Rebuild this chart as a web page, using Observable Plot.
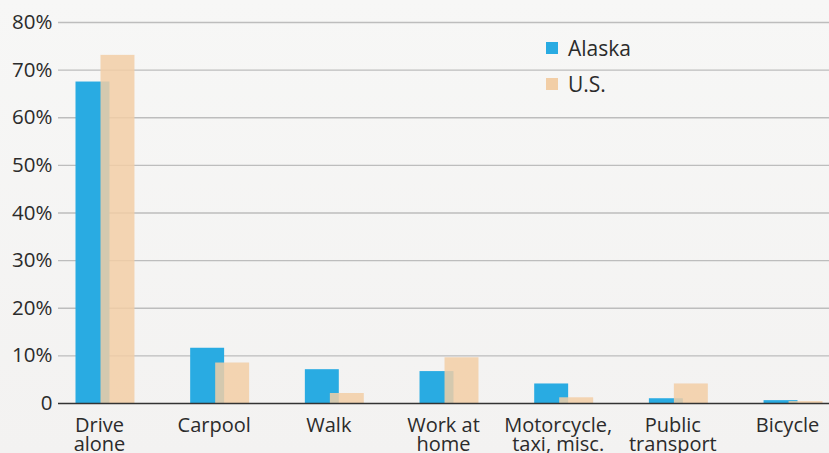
<!DOCTYPE html>
<html><head><meta charset="utf-8">
<script src="https://cdn.jsdelivr.net/npm/d3@7"></script>
<script src="https://cdn.jsdelivr.net/npm/@observablehq/plot@0.6"></script>
<style>
html,body{margin:0;padding:0;background:#f5f4f3;}
#wrap{position:relative;width:829px;height:453px;overflow:hidden;background:linear-gradient(#f7f7f6,#f3f2f1);font-family:"Open Sans",sans-serif;}
#legend{position:absolute;left:546px;top:30px;font-size:21px;color:#2b2b2b;}
.item{display:flex;align-items:center;height:36px;}
.sw{width:12px;height:12px;margin-right:10px;}
svg{display:block;}
</style></head><body><div id="wrap"><div id="legend"></div></div>
<script>
const categories = ["Drive alone","Carpool","Walk","Work at home","Motorcycle, taxi, misc.","Public transport","Bicycle"];
const tickLabels = ["Drive\nalone","Carpool","Walk","Work at\nhome","Motorcycle,\ntaxi, misc.","Public\ntransport","Bicycle"];
const alaska = [67.5, 11.6, 7.1, 6.7, 4.1, 1.0, 0.6];
const us = [73.1, 8.5, 2.1, 9.6, 1.2, 4.1, 0.4];
const yTicks = [0,10,20,30,40,50,60,70,80];
const seriesNames = ["Alaska","U.S."];
const colors = ["#29abe2","#f2cea6"];

const alaskaRows = categories.map((c,i)=>({category:c, series:seriesNames[0], value:alaska[i]}));
const usRows = categories.map((c,i)=>({category:c, series:seriesNames[1], value:us[i]}));

const chart = Plot.plot({
  width:829, height:453, marginLeft:58, marginRight:0, marginTop:22, marginBottom:50,
  style:{background:"transparent", fontFamily:"'Open Sans', sans-serif", fontSize:"20px", color:"#2b2b2b", overflow:"hidden"},
  x:{domain:categories, range:[88,810], paddingInner:0.704, paddingOuter:0, align:0.5, round:false, label:null},
  y:{domain:[0,80], label:null},
  marks:[
    Plot.ruleY(yTicks.filter(d=>d>0), {stroke:"#bdbdbd", strokeWidth:1.3}),
    Plot.barY(alaskaRows, {x:"category", y:"value", fill:colors[0], dx:-12.5}),
    Plot.barY(usRows, {x:"category", y:"value", fill:colors[1], fillOpacity:0.85, dx:12.5}),
    Plot.ruleY([0], {stroke:"#333", strokeWidth:1.6}),
    Plot.axisY({ticks:yTicks, tickFormat:d=>d===0?"0":d+"%", tickSize:0, tickPadding:6, fontSize:20.5, fill:"#2b2b2b", label:null}),
    Plot.axisX({tickSize:0, tickPadding:15, dx:-6, tickFormat:d=>tickLabels[categories.indexOf(d)], lineHeight:0.95, fontSize:20, fill:"#2b2b2b", label:null})
  ]
});
document.getElementById("wrap").appendChild(chart);
const legend = document.getElementById("legend");
seriesNames.forEach((n,i)=>{
  const it = document.createElement("div"); it.className="item";
  const sw = document.createElement("div"); sw.className="sw"; sw.style.background=colors[i];
  const t = document.createElement("span"); t.textContent=n;
  it.appendChild(sw); it.appendChild(t); legend.appendChild(it);
});
</script></body></html>
